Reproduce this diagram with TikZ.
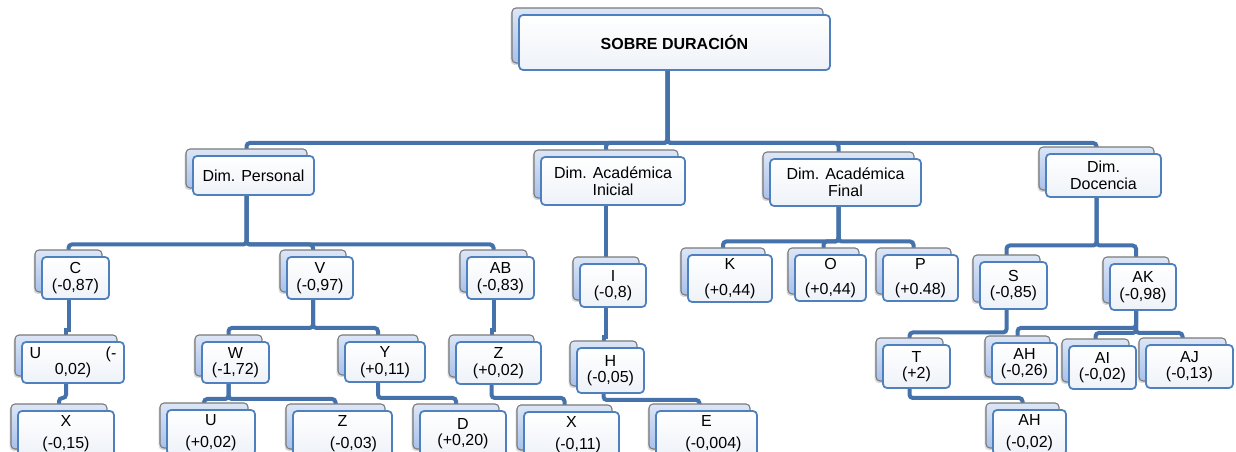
\documentclass[tikz,border=0pt]{standalone}
\usepackage{fontspec}
\setmainfont{Liberation Sans}
\usetikzlibrary{shadows}
\definecolor{conncol}{HTML}{4572AA}
\definecolor{fbord}{HTML}{4E80BD}
\definecolor{btop}{HTML}{DCE6F6}
\definecolor{bbot}{HTML}{A8C1EC}
\definecolor{bbord}{HTML}{7A7A7A}
\definecolor{fbot}{HTML}{EEF2F8}
\tikzset{
  backbox/.style={draw=bbord, line width=0.8pt, rounded corners=3pt, top color=btop, bottom color=bbot, inner sep=0pt,
    drop shadow={opacity=0.3, shadow xshift=-1pt, shadow yshift=-1.5pt}},
  frontbox/.style={draw=fbord, line width=1.3pt, rounded corners=3pt, top color=white, bottom color=fbot, inner sep=0pt,
    align=center, font=\fontsize{12}{12.5}\selectfont, text=black},
  conn/.style={draw=conncol, line width=3pt, rounded corners=2.5pt},
  jog/.style={draw=conncol, line width=3pt, sharp corners},
}
\newcommand{\smbox}[6]{%
  \node[backbox, minimum width={(#4-#2)*0.75pt}, minimum height={(#5-#3)*0.75pt}] (#1b) at ({(#2+#4)/2-7},{(#3+#5)/2-7}) {};
  \node[frontbox, minimum width={(#4-#2)*0.75pt}, minimum height={(#5-#3)*0.75pt}] (#1) at ({(#2+#4)/2},{(#3+#5)/2}) {#6};
}
\newcommand{\boxpos}[6]{%
  \coordinate (#1b) at ({(#2+#4)/2-7},{(#3+#5)/2-7});
}
\begin{document}
\begin{tikzpicture}[x=0.75pt,y=-0.75pt]
\useasboundingbox (0,0) rectangle (1236,452);
\clip (0,0) rectangle (1236,452);
\fill[white] (0,0) rectangle (1236,452);
% positions of back boxes (for connectors)
\boxpos{top}{519}{15}{830}{70}{}
\boxpos{per}{193}{156}{314}{195}{}
\boxpos{ini}{541}{157}{685}{205}{}
\boxpos{fin}{770}{159}{921}{206}{}
\boxpos{doc}{1046}{154}{1161}{197}{}
\boxpos{c}{42}{257}{109}{299}{}
\boxpos{v}{287}{257}{353}{299}{}
\boxpos{ab}{467}{257}{534}{299}{}
\boxpos{i}{580}{264}{646}{307}{}
\boxpos{k}{688}{255}{772}{302}{}
\boxpos{o}{795}{255}{866}{301}{}
\boxpos{p}{883}{255}{958}{301}{}
\boxpos{s}{980}{262}{1047}{309}{}
\boxpos{ak}{1110}{264}{1176}{310}{}
\boxpos{u1}{22}{342}{124}{383}{}
\boxpos{w}{202}{342}{269}{383}{}
\boxpos{y}{345}{342}{425}{382}{}
\boxpos{z1}{456}{342}{541}{384}{}
\boxpos{h}{577}{348}{644}{393}{}
\boxpos{t}{883}{345}{950}{388}{}
\boxpos{ah1}{992}{343}{1057}{384}{}
\boxpos{ai}{1069}{346}{1136}{389}{}
\boxpos{aj}{1146}{345}{1233}{388}{}
\boxpos{x1}{18}{411}{114}{456}{}
\boxpos{u2}{167}{410}{255}{455}{}
\boxpos{z2}{293}{411}{392}{456}{}
\boxpos{d}{420}{411}{506}{456}{}
\boxpos{x2}{524}{412}{619}{457}{}
\boxpos{e}{656}{411}{757}{456}{}
\boxpos{ah2}{993}{410}{1066}{455}{}
% bus levels
\coordinate (L1) at (0,143);
\coordinate (Lper) at (0,244.5);
\coordinate (Lfin) at (0,241.5);
\coordinate (Ldoc) at (0,245.5);
\coordinate (Lc) at (0,330);
\coordinate (Lv) at (0,328);
\coordinate (Lab) at (0,330);
\coordinate (Li) at (0,337);
\coordinate (Ls) at (0,332.5);
\coordinate (Lak) at (0,328);
\coordinate (Lakb) at (0,333);
\coordinate (Lbot) at (0,398);
\coordinate (Lw) at (0,399);
\coordinate (Lh) at (0,400);
% connectors
\foreach \ch in {per,ini,fin,doc}
  \draw[conn] (topb) -- (topb |- L1) -| (\ch b);
\foreach \ch in {c,v,ab}
  \draw[conn] (perb) -- (perb |- Lper) -| (\ch b);
\draw[conn] (inib) -- (ib);
\foreach \ch in {k,o,p}
  \draw[conn] (finb) -- (finb |- Lfin) -| (\ch b);
\foreach \ch in {s,ak}
  \draw[conn] (docb) -- (docb |- Ldoc) -| (\ch b);
\draw[jog] (cb) -- (cb |- Lc) -| (u1b);
\foreach \ch in {w,y}
  \draw[conn] (vb) -- (vb |- Lv) -| (\ch b);
\draw[jog] (abb) -- (abb |- Lab) -| (z1b);
\draw[jog] (ib) -- (ib |- Li) -| (hb);
\draw[conn] (sb) -- (sb |- Ls) -| (tb);
\draw[conn] (akb) -- (akb |- Lak) -| (ah1b);
\foreach \ch in {ai,aj}
  \draw[conn] (akb) -- (akb |- Lakb) -| (\ch b);
\draw[conn] (u1b) -- (u1b |- Lbot) -| (x1b);
\foreach \ch in {u2,z2}
  \draw[conn] (wb) -- (wb |- Lw) -| (\ch b);
\draw[conn] (yb) -- (yb |- Lbot) -| (db);
\draw[conn] (z1b) -- (z1b |- Lbot) -| (x2b);
\draw[conn] (hb) -- (hb |- Lh) -| (eb);
\draw[conn] (tb) -- (tb |- Lbot) -| (ah2b);
% boxes
\smbox{top}{519}{15}{830}{70}{\textbf{SOBRE DURACIÓN}}
\smbox{per}{193}{156}{314}{195}{Dim. Personal}
\smbox{ini}{541}{157}{685}{205}{Dim. Académica\\Inicial}
\smbox{fin}{770}{159}{921}{206}{Dim. Académica\\Final}
\smbox{doc}{1046}{154}{1161}{197}{Dim.\\Docencia}
\smbox{c}{42}{257}{109}{299}{C\\(-0,87)}
\smbox{v}{287}{257}{353}{299}{V\\(-0,97)}
\smbox{ab}{467}{257}{534}{299}{AB\\(-0,83)}
\smbox{i}{580}{264}{646}{307}{I\\(-0,8)}
\smbox{k}{688}{255}{772}{302}{K\\[6.5pt](+0,44)}
\smbox{o}{795}{255}{866}{301}{O\\[6.5pt](+0,44)}
\smbox{p}{883}{255}{958}{301}{P\\[6.5pt](+0.48)}
\smbox{s}{980}{262}{1047}{309}{S\\(-0,85)}
\smbox{ak}{1110}{264}{1176}{310}{AK\\(-0,98)}
\smbox{u1}{22}{342}{124}{383}{\makebox[65pt][s]{U\hfill(-}\\0,02)}
\smbox{w}{202}{342}{269}{383}{W\\(-1,72)}
\smbox{y}{345}{342}{425}{382}{Y\\(+0,11)}
\smbox{z1}{456}{342}{541}{384}{Z\\(+0,02)}
\smbox{h}{577}{348}{644}{393}{H\\(-0,05)}
\smbox{t}{883}{345}{950}{388}{T\\(+2)}
\smbox{ah1}{992}{343}{1057}{384}{AH\\(-0,26)}
\smbox{ai}{1069}{346}{1136}{389}{AI\\(-0,02)}
\smbox{aj}{1146}{345}{1233}{388}{AJ\\(-0,13)}
\smbox{x1}{18}{411}{114}{456}{X\\[4pt](-0,15)}
\smbox{u2}{167}{410}{255}{455}{U\\[4pt](+0,02)}
\smbox{z2}{293}{411}{392}{456}{Z\\[4pt]\hspace*{16.5pt}(-0,03)}
\smbox{d}{420}{411}{506}{456}{D\\(+0,20)}
\smbox{x2}{524}{412}{619}{457}{X\\[4pt]\hspace*{9.75pt}(-0,11)}
\smbox{e}{656}{411}{757}{456}{E\\[4pt]\hspace*{10.5pt}(-0,004)}
\smbox{ah2}{993}{410}{1066}{455}{AH\\[4pt](-0,02)}
\end{tikzpicture}
\end{document}
